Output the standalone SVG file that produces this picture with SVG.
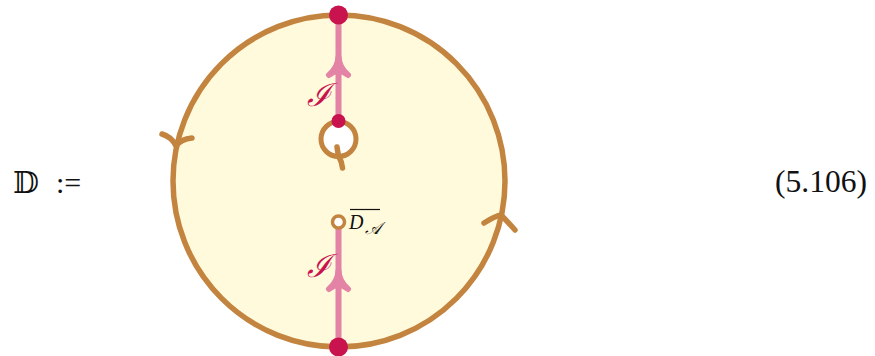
<svg xmlns="http://www.w3.org/2000/svg" width="875" height="356" viewBox="0 0 875 356">
<style>
.tan{fill:none;stroke:#C3843F;stroke-width:5.5;stroke-linecap:round;stroke-linejoin:round}
.pink{fill:none;stroke:#E383A5;stroke-width:6}
.pinkhead{fill:#E383A5;stroke:#E383A5;stroke-width:6;stroke-linejoin:round;stroke-linecap:round}
.dot{fill:#C8134F}
.lbl{font-family:"DejaVu Serif","Liberation Serif",serif;font-style:italic;fill:#C8134F}
.txt{font-family:"Liberation Serif","DejaVu Serif",serif;fill:#111}
</style>
<rect width="875" height="356" fill="#fff"/>
<g id="disk">
<circle cx="339" cy="181" r="166" fill="#FFFADC" stroke="#C3843F" stroke-width="5.5"/>
<path class="tan" d="M162,134 Q172,137 176,146 Q181,139 192,138"/>
<path class="tan" d="M484,223 Q495,216 501,215 Q507,221 515,230"/>
</g>
<g id="connectors">
<line class="pink" x1="338.5" y1="15" x2="338.5" y2="121"/>
<path class="pinkhead" d="M338.5,57 C339,66 343,71 348,75 Q343,71 338.5,71 Q334,71 329,75 C334,71 338,66 338.5,57 Z"/>
<line class="pink" x1="338.5" y1="228" x2="338.5" y2="347"/>
<path class="pinkhead" d="M338.5,271 C339,280 343,285 348,289 Q343,285 338.5,285 Q334,285 329,289 C334,285 338,280 338.5,271 Z"/>
</g>
<g id="inner-loop">
<circle cx="338.5" cy="139" r="17.5" fill="#fff" stroke="#C3843F" stroke-width="5"/>
<path class="tan" stroke-width="4" d="M337,147 Q338,154 339,157 Q342,162 342.5,168"/>
</g>
<g id="top-point"><circle class="dot" cx="338.5" cy="15" r="9.5"/></g>
<g id="bottom-point"><circle class="dot" cx="338.5" cy="347" r="9.5"/></g>
<g id="inner-point"><circle class="dot" cx="338.5" cy="121" r="7"/></g>
<g id="hole">
<circle cx="338.5" cy="222" r="6" fill="#fff" stroke="#C3843F" stroke-width="3.5"/>
<line x1="350" y1="209.5" x2="380" y2="209.5" stroke="#111" stroke-width="1.2"/>
<text class="txt" x="349" y="229" font-size="20" font-style="italic">D</text>
<text class="txt" x="365" y="234" font-size="17" font-style="italic" font-family="DejaVu Serif,serif">𝒜</text>
</g>
<text class="lbl" x="307" y="106" font-size="32">ℐ</text>
<text class="lbl" x="307" y="277" font-size="32">ℐ</text>
<text class="txt" x="13" y="193" font-size="30" font-family="DejaVu Sans,DejaVu Serif,serif">𝔻</text>
<text class="txt" x="56" y="193" font-size="30">:=</text>
<text class="txt" x="775" y="192" font-size="31" textLength="92" lengthAdjust="spacingAndGlyphs">(5.106)</text>
</svg>
